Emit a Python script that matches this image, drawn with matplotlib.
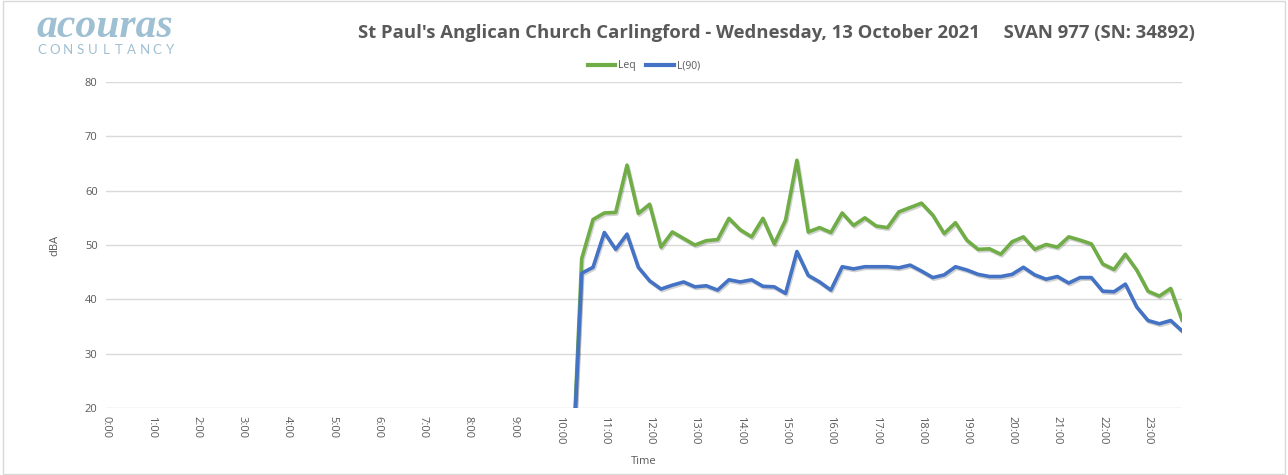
import numpy as np
import matplotlib.pyplot as plt
import matplotlib.patheffects as pe

# 15-minute intervals over the day; logging started at 10:30 (earlier slots read 0)
times_h = np.arange(96) * 0.25
hour_labels = [f"{h}:00" for h in range(24)]

leq_logged = [47.5, 54.7, 55.9, 56.0, 64.7, 55.8, 57.5, 49.6, 52.4, 51.2,
              50.0, 50.8, 51.0, 54.9, 52.8, 51.5, 54.9, 50.2, 54.6, 65.6,
              52.4, 53.2, 52.3, 55.9, 53.6, 55.0, 53.5, 53.2, 56.1, 56.9,
              57.7, 55.5, 52.1, 54.1, 50.9, 49.2, 49.3, 48.3, 50.6, 51.5,
              49.2, 50.1, 49.6, 51.5, 50.9, 50.2, 46.5, 45.5, 48.3, 45.4,
              41.5, 40.6, 42.0, 36.2]
l90_logged = [44.8, 45.9, 52.3, 49.2, 52.0, 45.9, 43.4, 41.9, 42.6, 43.2,
              42.3, 42.5, 41.7, 43.6, 43.2, 43.6, 42.4, 42.3, 41.1, 48.8,
              44.4, 43.2, 41.7, 46.0, 45.6, 46.0, 46.0, 46.0, 45.8, 46.3,
              45.2, 44.0, 44.5, 46.0, 45.4, 44.6, 44.2, 44.2, 44.6, 45.9,
              44.5, 43.7, 44.2, 43.0, 44.0, 44.0, 41.5, 41.4, 42.8, 38.6,
              36.1, 35.5, 36.1, 34.2]
n_empty = 96 - len(leq_logged)
leq = np.array([0.0] * n_empty + leq_logged)
l90 = np.array([0.0] * n_empty + l90_logged)

GREEN = "#70AD47"
BLUE = "#4472C4"
TEXT = "#595959"
GRID = "#D9D9D9"

fig = plt.figure(figsize=(12.88, 4.75), dpi=100)
fig.patch.set_facecolor("white")
# thin border around the chart area
fig.add_artist(plt.Rectangle((0.002, 0.003), 0.996, 0.994, transform=fig.transFigure,
                             fill=False, edgecolor="#D9D9D9", linewidth=1))

ax = fig.add_axes([106 / 1288, 1 - 408 / 475, (1182 - 106) / 1288, (408 - 82) / 475])

shadow = [pe.SimpleLineShadow(offset=(0.8, -1.2), shadow_color="#000000", alpha=0.18),
          pe.Normal()]
ax.plot(times_h, leq, color=GREEN, lw=2.6, solid_joinstyle="round",
        label="Leq", path_effects=shadow, zorder=3)
ax.plot(times_h, l90, color=BLUE, lw=2.6, solid_joinstyle="round",
        label="L(90)", path_effects=shadow, zorder=4)

ax.set_xlim(0, 23.75)
ax.set_ylim(20, 80)
ax.set_yticks(np.arange(20, 81, 10))
ax.set_xticks(np.arange(24))
ax.set_xticklabels(hour_labels, rotation=-90, fontsize=8, color=TEXT,
                   family=["Open Sans", "DejaVu Sans"])
for lbl in ax.get_yticklabels():
    lbl.set_fontsize(8)
    lbl.set_color(TEXT)
    lbl.set_family(["Open Sans", "DejaVu Sans"])
ax.tick_params(length=0, pad=6)
ax.grid(axis="y", color=GRID, linewidth=1)
ax.set_axisbelow(True)
for s in ax.spines.values():
    s.set_visible(False)

ax.set_ylabel("dBA", fontsize=8, color=TEXT, family="Open Sans", labelpad=18)
ax.set_xlabel("Time", fontsize=8, color=TEXT, family="Open Sans", labelpad=8)

leg = ax.legend(loc="lower center", bbox_to_anchor=(0.5, 1.02), ncol=2, frameon=False,
                fontsize=7.5, handlelength=2.6, handletextpad=0.3, columnspacing=1.0,
                borderaxespad=0)
for t in leg.get_texts():
    t.set_color(TEXT)
    t.set_family("Open Sans")
for h in leg.legend_handles:
    h.set_linewidth(3)
    h.set_path_effects([])

fig.text(1195 / 1288, 1 - 33 / 475,
         "St Paul's Anglican Church Carlingford - Wednesday, 13 October 2021     SVAN 977 (SN: 34892)",
         ha="right", va="center", fontsize=13.3, fontweight="bold", color=TEXT,
         family="Open Sans")

# company wordmark
LOGO = "#9EC0D2"
fig.text(105 / 1288, 1 - 27 / 475, "acouras", ha="center", va="center", fontsize=30,
         style="italic", fontweight="bold", color=LOGO, family="Liberation Serif")
word = "CONSULTANCY"
x0, x1 = 42, 170
for i, ch in enumerate(word):
    fig.text((x0 + i * (x1 - x0) / (len(word) - 1)) / 1288, 1 - 50 / 475, ch,
             ha="center", va="center", fontsize=9.5, color=LOGO, family="Lato")

fig.savefig("out.png", dpi=100, facecolor="white")
